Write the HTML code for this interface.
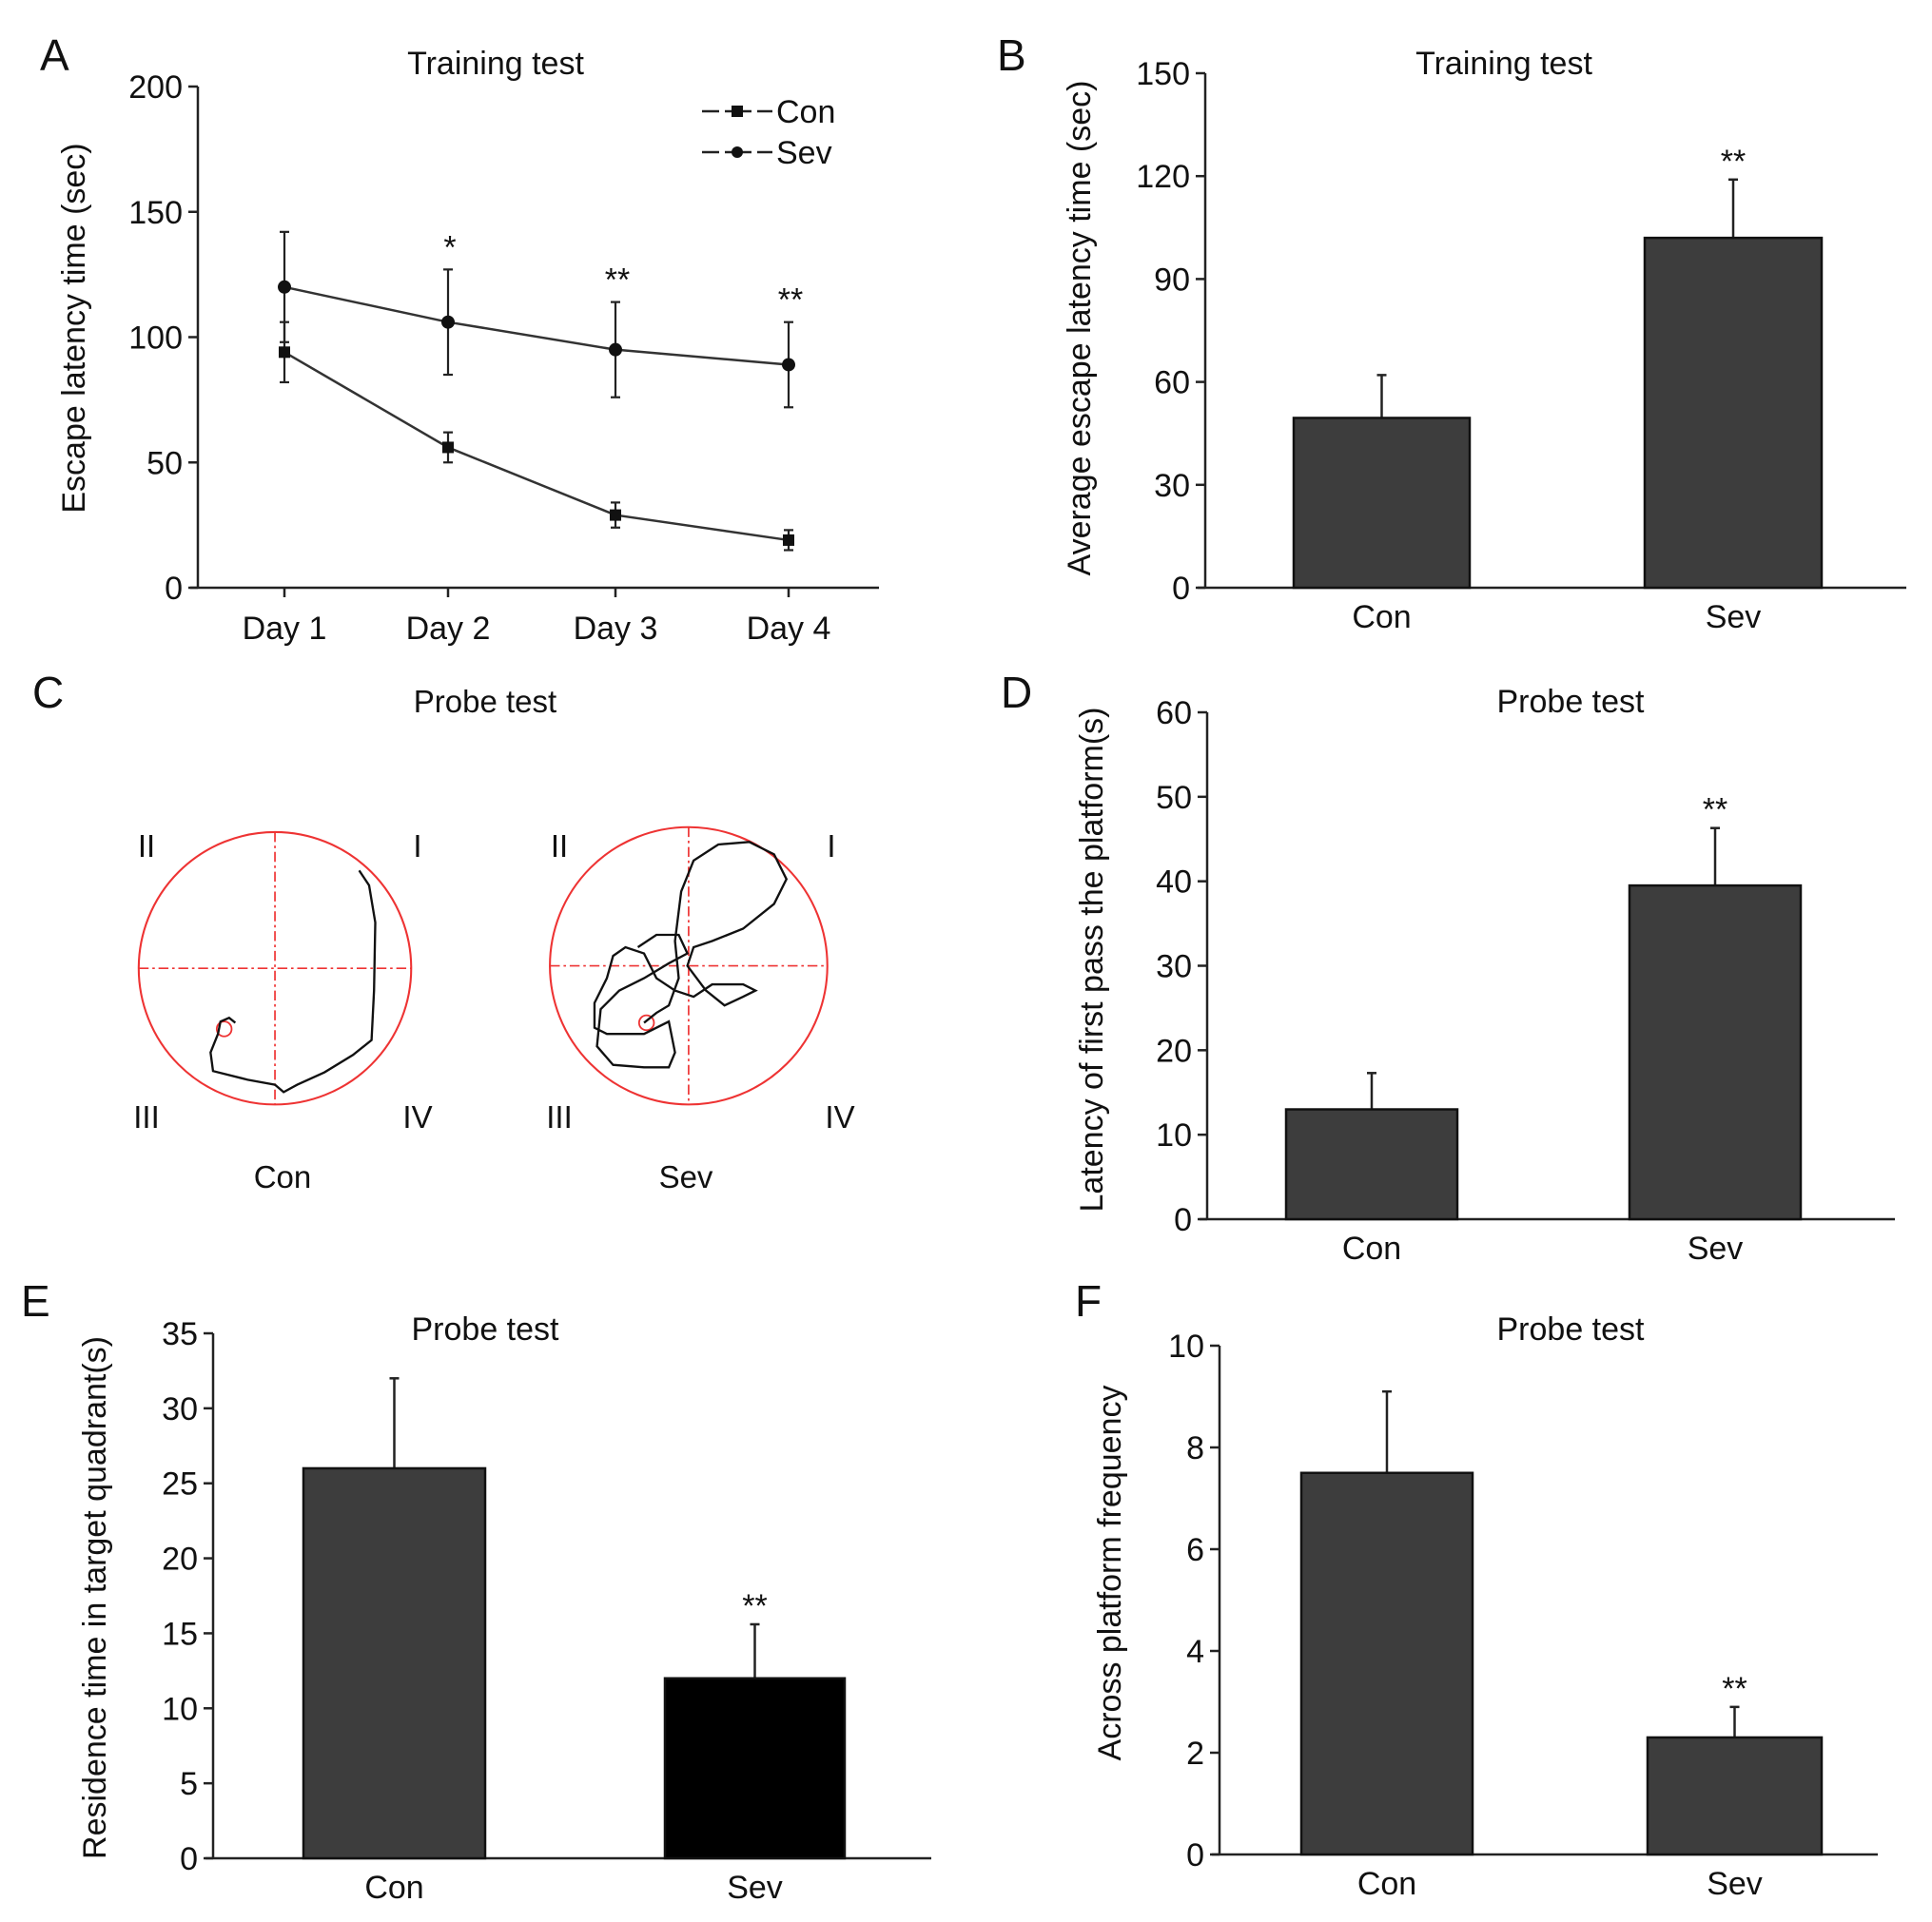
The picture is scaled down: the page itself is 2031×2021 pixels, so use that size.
<!DOCTYPE html>
<html><head><meta charset="utf-8"><style>
body{margin:0;background:#fff}
svg text{font-family:"Liberation Sans",Arial,sans-serif;fill:#111}
</style></head><body>
<svg id="s" width="2031" height="2016" viewBox="0 0 2031 2016" xmlns="http://www.w3.org/2000/svg">
<g font-size="46">
<text x="42" y="74">A</text>
<text x="1048" y="74">B</text>
<text x="34" y="744">C</text>
<text x="1052" y="744">D</text>
<text x="22" y="1384">E</text>
<text x="1130" y="1384">F</text>
</g>
<g id="panelC">
<text x="510" y="749" font-size="33" text-anchor="middle">Probe test</text>
<g transform="scale(1.302)">
<circle cx="222" cy="782" r="110" fill="none" stroke="#e33" stroke-width="1.6"/>
<line x1="112" y1="782" x2="332" y2="782" stroke="#e33" stroke-width="1.3" stroke-dasharray="8 3 2 3"/>
<line x1="222" y1="672" x2="222" y2="892" stroke="#e33" stroke-width="1.3" stroke-dasharray="8 3 2 3"/>
<circle cx="181" cy="831" r="6" fill="none" stroke="#e33" stroke-width="1.4"/>
<polyline fill="none" stroke="#111" stroke-width="1.8" points="290,703 298,715 303,745 302,800 300,840 285,852 262,866 240,876 229,882 222,876 200,872 172,865 170,850 176,835 178,825 185,822 190,826"/>
<circle cx="556" cy="780" r="112" fill="none" stroke="#e33" stroke-width="1.6"/>
<line x1="444" y1="780" x2="668" y2="780" stroke="#e33" stroke-width="1.3" stroke-dasharray="8 3 2 3"/>
<line x1="556" y1="668" x2="556" y2="892" stroke="#e33" stroke-width="1.3" stroke-dasharray="8 3 2 3"/>
<circle cx="522" cy="826" r="6" fill="none" stroke="#e33" stroke-width="1.4"/>
<polyline fill="none" stroke="#111" stroke-width="1.8" points="520,826 530,818 540,812 548,790 545,760 550,720 560,695 580,682 605,680 625,690 635,710 625,730 600,750 575,760 560,765 555,780 570,800 585,812 600,805 610,800 600,795 575,795 560,805 545,800 530,790 520,770 505,765 495,772 490,790 480,810 480,830 490,835 520,835 540,825 545,850 540,862 520,862 495,860 482,845 485,815 500,800 520,790 540,778 555,770 548,755 530,755 515,765"/>
</g>
<g font-size="33" text-anchor="middle">
<text x="154" y="901">II</text><text x="439" y="901">I</text><text x="154" y="1186">III</text><text x="439" y="1186">IV</text>
<text x="297" y="1249">Con</text>
<text x="588" y="901">II</text><text x="874" y="901">I</text><text x="588" y="1186">III</text><text x="883" y="1186">IV</text>
<text x="721" y="1249">Sev</text>
</g>
</g>
</svg>
<script>
// Panel A data
const daysA = ["Day 1","Day 2","Day 3","Day 4"];
const sevA = [120,106,95,89];
const sevErrA = [22,21,19,17];
const conA = [94,56,29,19];
const conErrA = [12,6,5,4];
const ticksA = [0,50,100,150,200];
const starsA = ["","*","**","**"];
// Panel B
const catsB = ["Con","Sev"];
const valsB = [49.5,102];
const errB = [12.5,17];
const ticksB = [0,30,60,90,120,150];
const starsB = ["","**"];
// Panel D
const valsD = [13,39.5];
const errD = [4.3,6.8];
const ticksD = [0,10,20,30,40,50,60];
const starsD = ["","**"];
// Panel E
const valsE = [26,12];
const errE = [6,3.6];
const ticksE = [0,5,10,15,20,25,30,35];
const starsE = ["","**"];
// Panel F
const valsF = [7.5,2.3];
const errF = [1.6,0.6];
const ticksF = [0,2,4,6,8,10];
const starsF = ["","**"];

const FS = 34;
const svg = document.getElementById('s');
const NS = 'http://www.w3.org/2000/svg';
function mk(tag, attrs, parent){const e=document.createElementNS(NS,tag);for(const k in attrs)e.setAttribute(k,attrs[k]);(parent||svg).appendChild(e);return e;}
function txt(s, attrs, parent){const e=mk('text',attrs,parent);e.textContent=s;return e;}

function yAxis(g, x0, yTop, yBot, max, ticks, x1, title, tx, ty){
  const y=v=>yBot-(v/max)*(yBot-yTop);
  const ax=mk('line',{x1:x0,y1:yTop,x2:x0,y2:yBot,stroke:'#222','stroke-width':2.5},g);
  
  
  const xa=mk('line',{x1:x0-8,y1:yBot,x2:x1,y2:yBot,stroke:'#222','stroke-width':2.5},g);
  
  
  ticks.forEach(t=>{
    mk('line',{x1:x0-10,y1:y(t),x2:x0,y2:y(t),stroke:'#222','stroke-width':2.5},g);
    const tl=txt(String(t),{x:x0-16,y:y(t)+12,'font-size':FS,'text-anchor':'end'},g);
    
    
  });
  const yt=txt(title,{x:tx,y:ty,'font-size':FS,'text-anchor':'middle',transform:`rotate(-90 ${tx} ${ty})`},g);
  
  
  return y;
}

function barPanel(name, cfg){
  const g=mk('g',{});
  
  
  const y=yAxis(g,cfg.x0,cfg.yTop,cfg.yBot,cfg.max,cfg.ticks,cfg.x1,cfg.title,cfg.tx,cfg.ty);
  const tt=txt(cfg.head,{x:cfg.hx,y:cfg.hy,'font-size':FS,'text-anchor':'middle'},g);
  
  
  cfg.vals.forEach((v,i)=>{
    const [l,r]=cfg.bars[i];const cx=(l+r)/2;
    const top=y(v+cfg.err[i]);
    const el=mk('line',{x1:cx,y1:y(v),x2:cx,y2:top,stroke:'#222','stroke-width':2.5},g);
    
    
    mk('line',{x1:cx-5,y1:top,x2:cx+5,y2:top,stroke:'#222','stroke-width':2.5},g);
    const b=mk('rect',{x:l,y:y(v),width:r-l,height:cfg.yBot-y(v),fill:cfg.fills[i],stroke:'#111','stroke-width':2.5},g);
    
    
    const cl=txt(catsB[i],{x:cx,y:cfg.yBot+42,'font-size':FS,'text-anchor':'middle'},g);
    
    
    if(cfg.stars[i]){const st=txt(cfg.stars[i],{x:cx,y:top-8,'font-size':FS,'text-anchor':'middle'},g);
      
      }
  });
}

// Panel A
(function(){
  const g=mk('g',{});
  
  
  const y=yAxis(g,208,91,618,200,ticksA,924,'Escape latency time (sec)',89,345);
  const xs=[299,471,647,829];
  const tt=txt('Training test',{x:521,y:78,'font-size':FS,'text-anchor':'middle'},g);
  
  
  daysA.forEach((d,i)=>{
    mk('line',{x1:xs[i],y1:618,x2:xs[i],y2:628,stroke:'#222','stroke-width':2.5},g);
    const l=txt(d,{x:xs[i],y:672,'font-size':FS,'text-anchor':'middle'},g);
    
    
  });
  [[sevA,sevErrA,'sev'],[conA,conErrA,'con']].forEach(([vals,err,nm])=>{
    const pl=mk('polyline',{points:vals.map((v,i)=>xs[i]+','+y(v)).join(' '),fill:'none',stroke:'#333','stroke-width':2.5},g);
    
    
    vals.forEach((v,i)=>{
      mk('line',{x1:xs[i],y1:y(v-err[i]),x2:xs[i],y2:y(v+err[i]),stroke:'#222','stroke-width':2.2},g);
      mk('line',{x1:xs[i]-5,y1:y(v-err[i]),x2:xs[i]+5,y2:y(v-err[i]),stroke:'#222','stroke-width':2.2},g);
      mk('line',{x1:xs[i]-5,y1:y(v+err[i]),x2:xs[i]+5,y2:y(v+err[i]),stroke:'#222','stroke-width':2.2},g);
      let m;
      if(nm==='sev') m=mk('circle',{cx:xs[i],cy:y(v),r:7,fill:'#111'},g);
      else m=mk('rect',{x:xs[i]-6,y:y(v)-6,width:12,height:12,fill:'#111'},g);
      
      
    });
  });
  starsA.forEach((s,i)=>{ if(s){const st=txt(s,{x:xs[i]+2,y:y(sevA[i]+sevErrA[i])-12,'font-size':FS,'text-anchor':'middle'},g);
    
    }});
  const lg=mk('g',{},g);
  
  
  [['Con',117,'sq'],['Sev',160,'ci']].forEach(([n,ly,t])=>{
    mk('line',{x1:738,y1:ly,x2:812,y2:ly,stroke:'#222','stroke-width':2.5,'stroke-dasharray':'18 6 28 6 18'},lg);
    if(t==='sq') mk('rect',{x:769,y:ly-6,width:12,height:12,fill:'#111'},lg); else mk('circle',{cx:775,cy:ly,r:6,fill:'#111'},lg);
    const e=txt(n,{x:816,y:ly+12,'font-size':FS},lg);
    
    
  });
})();

barPanel('panel-b-bar-chart',{x0:1267,yTop:77,yBot:618,max:150,ticks:ticksB,x1:2004,title:'Average escape latency time (sec)',tx:1146,ty:345,head:'Training test',hx:1581,hy:78,vals:valsB,err:errB,bars:[[1360,1545],[1729,1915]],fills:['#3d3d3d','#3d3d3d'],stars:starsB});
barPanel('panel-d-bar-chart',{x0:1269,yTop:749,yBot:1282,max:60,ticks:ticksD,x1:1992,title:'Latency of first pass the platform(s)',tx:1159,ty:1009,head:'Probe test',hx:1651,hy:749,vals:valsD,err:errD,bars:[[1352,1532],[1713,1893]],fills:['#3d3d3d','#3d3d3d'],stars:starsD});
barPanel('panel-e-bar-chart',{x0:224,yTop:1402,yBot:1954,max:35,ticks:ticksE,x1:979,title:'Residence time in target quadrant(s)',tx:111,ty:1680,head:'Probe test',hx:510,hy:1409,vals:valsE,err:errE,bars:[[319,510],[699,888]],fills:['#3d3d3d','#000'],stars:starsE});
barPanel('panel-f-bar-chart',{x0:1282,yTop:1415,yBot:1950,max:10,ticks:ticksF,x1:1974,title:'Across platform frequency',tx:1178,ty:1654,head:'Probe test',hx:1651,hy:1409,vals:valsF,err:errF,bars:[[1368,1548],[1732,1915]],fills:['#3d3d3d','#3d3d3d'],stars:starsF});
</script>
</body></html>
